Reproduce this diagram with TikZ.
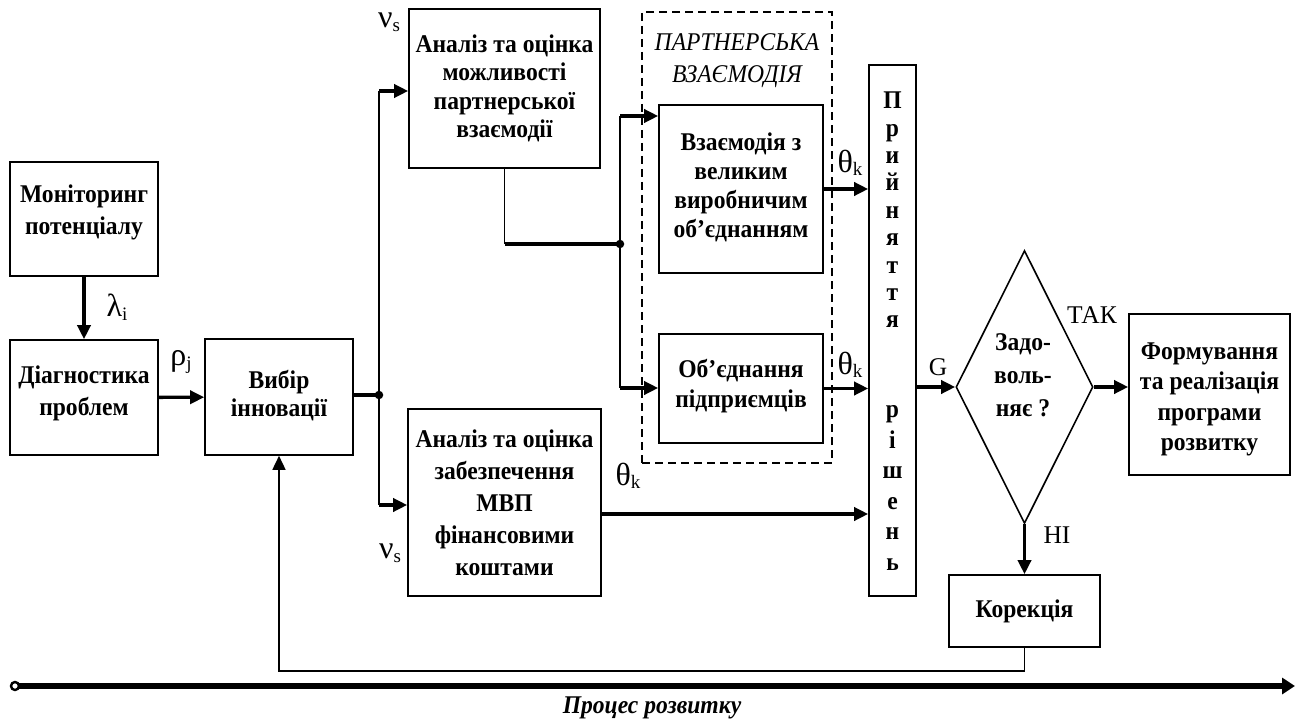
\documentclass[tikz,border=0pt]{standalone}
\usepackage{fontspec}
\setmainfont{Liberation Serif}
\newfontfamily\boxfont[FakeStretch=0.925]{Liberation Serif}
\usetikzlibrary{arrows.meta,shapes.geometric}
\newcommand{\bft}{\boxfont\bfseries\fontsize{25.5}{30}\selectfont}
\newcommand{\lblfont}{\rmfamily\fontsize{25.5}{28}\selectfont}
\newcommand{\grk}[2]{{\fontsize{32}{32}\selectfont #1}\raisebox{-0.3ex}{\fontsize{19}{19}\selectfont #2}}
\newcommand{\dpx}[1]{\rule[-#1]{0pt}{1pt}}
\begin{document}
\begin{tikzpicture}[x=1pt,y=-1pt,
  box/.style={draw, line width=1.6pt, inner sep=0pt, align=center, font=\bft},
  arr/.style={line width=3.4pt, -{Triangle[length=14pt,width=13pt]}},
  thk/.style={line width=3.4pt},
  thn/.style={line width=1.6pt},
  lbl/.style={inner sep=0pt, font=\lblfont},
  jdot/.style={circle, fill, inner sep=0pt, minimum size=8.5pt},
]
\fill[white] (0,0) rectangle (1303,722);
\useasboundingbox (0,0) rectangle (1303,722);

% group frame
\node[draw, line width=2pt, dash pattern=on 8pt off 5pt, minimum width=190pt, minimum height=451pt, inner sep=0pt] (grp) at (737,237.5) {};
\node[inner sep=0pt, align=center, font=\boxfont\itshape\fontsize{25.5}{32}\selectfont] (grpt) at (737,61) {ПАРТНЕРСЬКА\\ВЗАЄМОДІЯ};

% boxes
\node[box, minimum width=148pt, minimum height=114pt, font=\boxfont\bfseries\fontsize{25.5}{32}\selectfont] (mon) at (84,219) {Моніторинг\\потенціалу\dpx{19pt}};
\node[box, minimum width=148pt, minimum height=115pt, font=\boxfont\bfseries\fontsize{25.5}{32}\selectfont] (diag) at (84,397.5) {Діагностика\\проблем\dpx{14pt}};
\node[box, minimum width=148pt, minimum height=116pt, font=\boxfont\bfseries\fontsize{25.5}{28}\selectfont] (vyb) at (279,397) {Вибір\\інновації\dpx{8pt}};
\node[box, minimum width=191pt, minimum height=159pt, font=\boxfont\bfseries\fontsize{25.5}{28.5}\selectfont] (an1) at (504.5,88.5) {Аналіз та оцінка\\можливості\\партнерської\\взаємодії};
\node[box, minimum width=193pt, minimum height=187pt, font=\boxfont\bfseries\fontsize{25.5}{32}\selectfont] (an2) at (504.5,502.5) {Аналіз та оцінка\\забезпечення\\МВП\\фінансовими\\коштами};
\node[box, minimum width=164pt, minimum height=168pt, font=\boxfont\bfseries\fontsize{25.5}{29}\selectfont] (vz) at (741,189) {Взаємодія з\\великим\\виробничим\\об’єднанням\dpx{8pt}};
\node[box, minimum width=164pt, minimum height=109pt, font=\boxfont\bfseries\fontsize{25.5}{30}\selectfont] (ob) at (741,388.5) {Об’єднання\\підприємців\dpx{11pt}};
\node[box, minimum width=47pt, minimum height=531pt] (pr) at (892.5,330.5) {};
\node[inner sep=0pt, align=center, font=\boxfont\bfseries\fontsize{25.5}{27.4}\selectfont] (prt1) at (892.5,210) {П\\р\\и\\й\\н\\я\\т\\т\\я};
\node[inner sep=0pt, align=center, font=\boxfont\bfseries\fontsize{25.5}{30.6}\selectfont] (prt2) at (892.5,488) {р\\і\\ш\\е\\н\\ь};
\node[draw, diamond, line width=1.6pt, inner sep=0pt, aspect=0.5, minimum width=137pt, minimum height=273pt] (dia) at (1024.5,387) {};
\node[inner sep=0pt, align=center, font=\boxfont\bfseries\fontsize{25.5}{33}\selectfont] (diat) at (1023,375) {Задо-\\воль-\\няє ?};
\node[box, minimum width=161pt, minimum height=161pt, font=\boxfont\bfseries\fontsize{25.5}{30.5}\selectfont] (form) at (1209.5,394.5) {\rule{0pt}{26pt}Формування\\та реалізація\\програми\\розвитку};
\node[box, minimum width=151pt, minimum height=72pt] (kor) at (1024.5,611) {Корекція};

% junctions
\coordinate (j1) at (379,395);
\coordinate (j1t) at (379,91);
\coordinate (j1b) at (379,505);
\coordinate (j2) at (620,244);
\coordinate (j2t) at (620,116);
\coordinate (j2b) at (620,388);
\coordinate (a2o) at (601,514);
\coordinate (fb) at (1024.5,671);

% connectors
\draw[arr] (mon) -- (diag);
\draw[arr] (diag) -- (vyb);
\draw[thk] (vyb.east |- j1) -- (j1);
\draw[thn] (j1t) -- (j1b);
\draw[arr] (j1t) -- (j1t -| an1.west);
\draw[arr] (j1b) -- (j1b -| an2.west);
\node[jdot] (d1) at (j1) {};
\draw[thn] (an1.south) -- (an1.south |- j2);
\draw[thk] (an1.south |- j2) -- (j2);
\draw[thn] (j2t) -- (j2b);
\draw[arr] (j2t) -- (j2t -| vz.west);
\draw[arr] (j2b) -- (j2b -| ob.west);
\node[jdot] (d2) at (j2) {};
\draw[arr] (vz.east) -- (vz.east -| pr.west);
\draw[arr] (ob.east) -- (ob.east -| pr.west);
\draw[arr] (a2o) -- (a2o -| pr.west);
\draw[arr] (pr.east |- dia.west) -- (dia.west);
\draw[arr] (dia.east) -- (form.west |- dia.east);
\draw[arr] (dia.south) -- (kor.north);
\draw[thn, -{Triangle[length=14pt,width=13pt]}] (kor.south) -- (fb) -| (vyb.south);

% labels
\node[lbl] (l1) at (117,307) {\grk{λ}{i}};
\node[lbl] (l2) at (181,362) {\grk{ρ}{j}};
\node[lbl] (l3) at (389,22) {\grk{ν}{s}};
\node[lbl] (l4) at (390,553) {\grk{ν}{s}};
\node[lbl] (l5) at (850,163) {\grk{θ}{k}};
\node[lbl] (l6) at (850,365) {\grk{θ}{k}};
\node[lbl] (l7) at (628,476) {\grk{θ}{k}};
\node[lbl] (l8) at (938,367) {G};
\node[lbl] (l9) at (1092,315) {ТАК};
\node[lbl] (l10) at (1057,535) {НІ};

% process axis
\coordinate (ps) at (15,686);
\coordinate (pe) at (1295,686);
\draw[line width=6pt, -{Triangle[length=13pt,width=16pt]}] (ps) -- (pe);
\node[circle, draw, line width=2.4pt, fill=white, minimum size=8pt, inner sep=0pt] (pc) at (ps) {};
\node[inner sep=0pt, font=\boxfont\bfseries\itshape\fontsize{25.5}{28}\selectfont] (proc) at (652,708) {Процес розвитку};
\end{tikzpicture}
\end{document}
